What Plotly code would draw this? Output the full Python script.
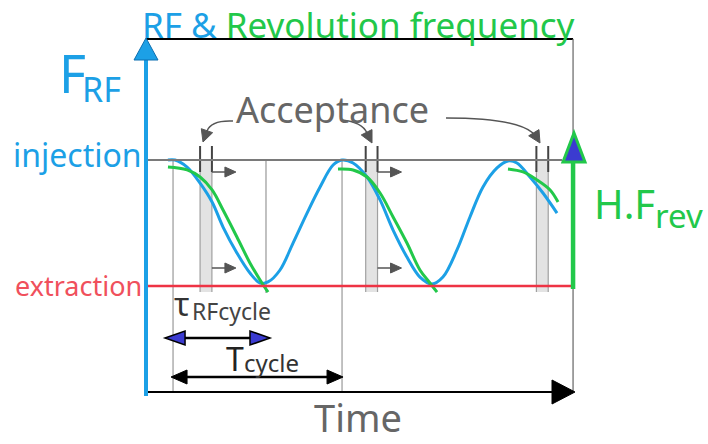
import plotly.graph_objects as go

# ---------------- data (time in units of T_cycle, frequency: extraction=0, injection=1)
rf_t = [0.130, 0.172, 0.243, 0.320, 0.391, 0.456, 0.538, 0.615, 0.675, 0.722, 0.793, 0.870,
        0.953, 1.030, 1.107, 1.160, 1.225, 1.308, 1.385, 1.462, 1.544, 1.621, 1.692, 1.757,
        1.840, 1.917, 1.994, 2.077, 2.142, 2.195, 2.272, 2.349, 2.432]
rf_f = [1.000, 1.000, 0.944, 0.817, 0.667, 0.468, 0.262, 0.103, 0.024, 0.032, 0.127, 0.341,
        0.579, 0.786, 0.960, 1.000, 0.976, 0.865, 0.683, 0.444, 0.230, 0.071, 0.016, 0.071,
        0.286, 0.548, 0.786, 0.937, 0.992, 0.976, 0.865, 0.738, 0.579]

rev1_t = [0.130, 0.243, 0.320, 0.391, 0.456, 0.538, 0.615, 0.675, 0.722]
rev1_f = [0.944, 0.921, 0.865, 0.762, 0.603, 0.389, 0.183, 0.048, -0.048]
rev2_t = [1.136, 1.225, 1.308, 1.385, 1.462, 1.544, 1.621, 1.680, 1.722]
rev2_f = [0.929, 0.921, 0.865, 0.738, 0.548, 0.341, 0.127, 0.024, -0.048]
rev3_t = [2.142, 2.231, 2.314, 2.391, 2.438]
rev3_f = [0.929, 0.905, 0.841, 0.762, 0.667]

f_injection = 1.0
f_extraction = 0.0
cycle_start = [0.16, 1.16]
rf_trough = [0.71]
accept_start = [0.32, 1.30, 2.31]
accept_end = [0.39, 1.37, 2.38]
t_end = 2.527
T_cycle = 1.0
tau_rf = 0.55

# ---------------- pixel <-> data helpers for layout decorations
PX0, PXS = 146.0, 169.0
PY0, PYS = 286.0, 126.0
def X(px): return (px - PX0) / PXS
def Y(py): return (PY0 - py) / PYS
def px(t): return PX0 + t * PXS
def py(f): return PY0 - f * PYS

BLUE = "#1ca0e6"
GREEN = "#22c84a"
RED = "#ee3344"
GRAYTXT = "#666666"
DARK = "#555555"
INDIGO = "#3b3bd0"
FONT = "Noto Sans"

fig = go.Figure()
shapes = []
annos = []

def line(x0, y0, x1, y1, color, width, layer="above"):
    shapes.append(dict(type="line", xref="x", yref="y", x0=X(x0), y0=Y(y0), x1=X(x1), y1=Y(y1),
                       line=dict(color=color, width=width), layer=layer))

def tri(tx, ty, dx, dy, length, half, fill, lcolor, lwidth=1):
    # tip at (tx,ty); direction (dx,dy) points from base to tip
    n = (dx * dx + dy * dy) ** 0.5
    ux, uy = dx / n, dy / n
    bx, by = tx - ux * length, ty - uy * length
    px1, py1 = bx - uy * half, by + ux * half
    px2, py2 = bx + uy * half, by - ux * half
    path = "M %f,%f L %f,%f L %f,%f Z" % (X(tx), Y(ty), X(px1), Y(py1), X(px2), Y(py2))
    shapes.append(dict(type="path", xref="x", yref="y", path=path, fillcolor=fill,
                       line=dict(color=lcolor, width=lwidth), layer="above"))

def curve(x0, y0, cx, cy, x1, y1, color, width):
    path = "M %f,%f Q %f,%f %f,%f" % (X(x0), Y(y0), X(cx), Y(cy), X(x1), Y(y1))
    shapes.append(dict(type="path", xref="x", yref="y", path=path,
                       line=dict(color=color, width=width), layer="above"))

# acceptance bands
for i, (a, b) in enumerate(zip(accept_start, accept_end)):
    shapes.append(dict(type="rect", xref="x", yref="y", x0=a, x1=b, y0=Y(292), y1=f_injection,
                       fillcolor="#e3e3e3", line=dict(width=0), layer="below"))
    for t in (a, b):
        line(px(t), 160, px(t), 292, "#a0a0a0", 1.2, layer="below")
        line(px(t), 146, px(t), 172, "#444444", 2)
    if i < 2:
        for yy in (172, 268):
            line(px(b), yy, px(b) + 14, yy, DARK, 1.5)
            tri(px(b) + 24, yy, 1, 0, 11, 5, DARK, DARK)

# cycle grid lines
for t in cycle_start:
    line(px(t), 160, px(t), 392, "#a0a0a0", 1.3, layer="below")
for t in rf_trough:
    line(px(t), 160, px(t), 293, "#a0a0a0", 1.3, layer="below")

# frame lines
line(146, 39, px(t_end), 39, "black", 2.2)
line(px(t_end), 39, px(t_end), 134, "#707070", 1.3)
line(px(t_end), 286, px(t_end), 392, "#707070", 1.3)
line(146, 392, 556, 392, "black", 2.2)
tri(575, 392, 1, 0, 23, 12, "black", "black")

# injection / extraction levels
line(146, py(f_injection), 562, py(f_injection), "#7a7a7a", 2)
line(146, py(f_extraction), px(t_end), py(f_extraction), RED, 2.5)

# frequency axis (blue)
line(146, 58, 146, 396, BLUE, 4)
tri(146, 38, 0, -1, 22, 12, BLUE, "#0d6fb0", 1)

# H.Frev arrow
line(px(t_end), 289, px(t_end), 160, GREEN, 4.5)
tri(574, 133, 0, -1, 29, 11, INDIGO, GREEN, 3)

# tau RF cycle arrow
t0 = cycle_start[0]
line(px(t0) + 5, 338, px(t0 + tau_rf) - 6, 338, "black", 2.5)
tri(px(t0) - 8, 338, -1, 0, 20, 7, INDIGO, "black", 1.5)
tri(px(t0 + tau_rf) + 4, 338, 1, 0, 20, 7, INDIGO, "black", 1.5)

# T cycle arrow
line(px(t0) + 6, 377, px(t0 + T_cycle) - 8, 377, "black", 2.5)
tri(px(t0) - 2, 377, -1, 0, 16, 7, "black", "black")
tri(px(t0 + T_cycle) + 1, 377, 1, 0, 16, 7, "black", "black")

# acceptance curved arrows
curve(233, 121, 211, 120, 207, 131, DARK, 1.5)
tri(203, 142, -0.35, 1, 12, 6, DARK, DARK)
curve(342, 120, 362, 122, 367, 133, DARK, 1.5)
tri(372, 143, 0.5, 1, 12, 6, DARK, DARK)
curve(446, 118, 515, 118, 533, 133, DARK, 1.5)
tri(540, 143, 0.6, 1, 12, 6, DARK, DARK)

# ---------------- curves
fig.add_trace(go.Scatter(x=rf_t, y=rf_f, mode="lines", line=dict(color=BLUE, width=3, shape="spline"),
                         hoverinfo="skip"))
for tt, ff in ((rev1_t, rev1_f), (rev2_t, rev2_f), (rev3_t, rev3_f)):
    fig.add_trace(go.Scatter(x=tt, y=ff, mode="lines", line=dict(color=GREEN, width=3, shape="spline"),
                             hoverinfo="skip"))

# ---------------- text
def text(s, x, y, size, color, xanchor="left"):
    annos.append(dict(text=s, x=X(x), y=Y(y), xref="x", yref="y", showarrow=False,
                      xanchor=xanchor, yanchor="middle", borderpad=0,
                      font=dict(family=FONT, size=size, color=color)))

text("<span style='color:%s'>RF &amp;</span> <span style='color:%s'>Revolution frequency</span>" % (BLUE, GREEN),
     141, 24, 35, BLUE)
text("F", 58, 72, 52, BLUE)
text("RF", 81, 89, 34, BLUE)
text("injection", 143, 154, 32, BLUE, xanchor="right")
text("extraction", 143, 285, 27, "#f0505c", xanchor="right")
text("Acceptance", 235, 109, 36, GRAYTXT)
text("H.F", 593, 203, 40, GREEN)
text("rev", 654, 215, 33, GREEN)
text("τ", 173, 303, 32, "#333333")
text("RFcycle", 191, 311, 23, "#444444")
text("T", 225, 358, 32, "#222222")
text("cycle", 243, 362, 24, "#333333")
text("Time", 358, 417, 38, GRAYTXT, xanchor="center")

fig.update_layout(
    width=708, height=444, margin=dict(l=0, r=0, t=0, b=0),
    paper_bgcolor="white", plot_bgcolor="white", showlegend=False,
    xaxis=dict(range=[X(0), X(708)], visible=False, fixedrange=True),
    yaxis=dict(range=[Y(444), Y(0)], visible=False, fixedrange=True),
    shapes=shapes, annotations=annos,
)
fig.write_html("out.html", config={"displayModeBar": False},
               post_script="document.body.style.margin='0';document.body.style.overflow='hidden';")
